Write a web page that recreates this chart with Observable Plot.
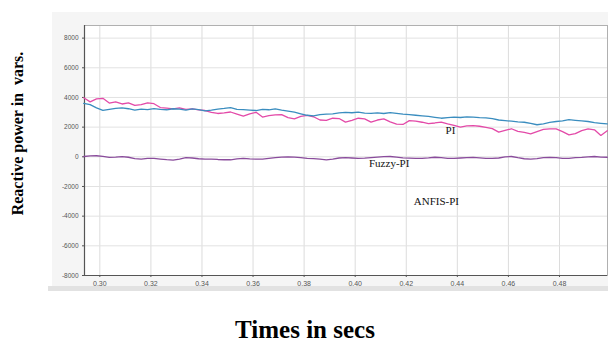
<!DOCTYPE html>
<html>
<head>
<meta charset="utf-8">
<script src="https://cdn.jsdelivr.net/npm/d3@7"></script>
<script src="https://cdn.jsdelivr.net/npm/@observablehq/plot@0.6"></script>
<style>
html,body{margin:0;padding:0;background:#fff;}
#chart{width:608px;height:342px;}
</style>
</head>
<body>
<div id="chart"></div>
<script>
// Sample times (s)
const t0 = 0.2937, dt = 0.0025;
const piValues = [3600,3520,3300,3130,3200,3260,3300,3240,3150,3220,3180,3250,3200,3170,3240,3210,3150,3230,3180,3100,3150,3220,3260,3320,3200,3180,3150,3120,3200,3170,3230,3150,3080,3010,2900,2800,2760,2840,2870,2900,2960,3000,2970,3010,2950,2930,2960,2920,2980,2930,2880,2840,2800,2760,2720,2660,2600,2640,2680,2650,2690,2670,2640,2620,2570,2480,2440,2400,2350,2330,2250,2160,2220,2320,2380,2420,2500,2460,2420,2380,2300,2260,2220];
const fuzzyValues = [3980,3700,3900,3940,3620,3700,3560,3640,3460,3520,3640,3580,3320,3280,3230,3300,3190,3230,3160,3120,3000,2920,2960,3020,2880,2740,2900,3000,2680,2780,2820,2840,2640,2560,2720,2790,2700,2480,2460,2600,2580,2340,2460,2600,2560,2340,2480,2560,2360,2200,2180,2440,2400,2330,2240,2280,2340,2220,2120,2000,2080,2100,2060,1980,1900,1660,1780,1890,1720,1640,1540,1700,1850,1880,1880,1700,1480,1560,1770,1880,1820,1440,1760];
const anfisValues = [20,60,70,30,-40,-20,10,-30,-120,-160,-100,-110,-150,-190,-220,-150,-60,-80,-130,-160,-150,-180,-200,-200,-140,-110,-140,-160,-150,-100,-60,-20,0,-20,-60,-110,-120,-160,-200,-150,-80,-50,-80,-110,-90,-50,-20,10,20,-20,-70,-90,-110,-100,-70,-30,-50,-100,-110,-80,-50,-40,-70,-100,-110,-80,0,20,-60,-130,-160,-120,-60,-40,-60,-110,-100,-60,-40,0,20,-20,-30];
const times = piValues.map((_, i) => t0 + i * dt);

const xTicks = [0.30,0.32,0.34,0.36,0.38,0.40,0.42,0.44,0.46,0.48];
const yTicks = [-8000,-6000,-4000,-2000,0,2000,4000,6000,8000];

const seriesNames = ["PI", "Fuzzy-PI", "ANFIS-PI"];
const labelT = [0.4373, 0.4133, 0.4318];
const labelV = [1750, -480, -2980];

const toRows = (vals) => vals.map((v, i) => ({t: times[i], v}));
const piRows = toRows(piValues), fuzzyRows = toRows(fuzzyValues), anfisRows = toRows(anfisValues);
const labelRows = seriesNames.map((n, i) => ({name: n, t: labelT[i], v: labelV[i]}));

const xDomain = [0.2940, 0.4988];
const yDomain = [-8000, 8850];

const chart = Plot.plot({
  width: 608,
  height: 342,
  marginLeft: 84,
  marginRight: 1,
  marginTop: 25,
  marginBottom: 67,
  x: {domain: xDomain},
  y: {domain: yDomain},
  marks: [
    Plot.frame({fill: "white", stroke: "none"}),
    Plot.gridX(xTicks, {stroke: "#dcdcdc", strokeOpacity: 1}),
    Plot.gridY(yTicks, {stroke: "#e2e2e2", strokeOpacity: 1}),
    Plot.frame({stroke: "#b0b0b0"}),
    Plot.ruleX([xDomain[0]], {stroke: "#555", strokeWidth: 1.2}),
    Plot.ruleY([yDomain[0]], {stroke: "#555", strokeWidth: 1.2}),
    Plot.axisX({ticks: xTicks, tickFormat: d3.format(".2f"), tickSize: 2, tickPadding: 4, fontSize: 7, fontFamily: "Liberation Sans", color: "#555", label: null}),
    Plot.axisY({ticks: yTicks, tickFormat: d => String(d), tickSize: 2, tickPadding: 4, fontSize: 6.5, fontFamily: "Liberation Sans", color: "#555", label: null}),
    Plot.line(anfisRows, {x: "t", y: "v", stroke: "#8a4c9c", strokeWidth: 1.3}),
    Plot.line(fuzzyRows, {x: "t", y: "v", stroke: "#e34aa8", strokeWidth: 1.3}),
    Plot.line(piRows, {x: "t", y: "v", stroke: "#3a8dbf", strokeWidth: 1.3}),
    Plot.text(labelRows, {x: "t", y: "v", text: "name", fontFamily: "Liberation Serif", fontSize: 11, fill: "#111"}),
    Plot.text(["Reactive power in  vars."], {frameAnchor: "left", textAnchor: "middle", lineAnchor: "middle", dx: -67, dy: -17, rotate: -90, fontFamily: "Liberation Serif", fontWeight: "bold", fontSize: 16, fill: "#000"}),
    Plot.text(["Times in secs"], {frameAnchor: "bottom", lineAnchor: "middle", dx: -41, dy: 54, fontFamily: "Liberation Serif", fontWeight: "bold", fontSize: 25, fill: "#000"})
  ]
});

// light grey panel behind the chart, as in the original screenshot
const svg = d3.select(chart);
svg.insert("rect", ":first-child").attr("x", 48).attr("y", 286).attr("width", 560).attr("height", 5).attr("fill", "#e2e2e2");
svg.insert("rect", ":first-child").attr("x", 52).attr("y", 12).attr("width", 556).attr("height", 276).attr("fill", "#f5f5f5");
document.getElementById("chart").appendChild(chart);
</script>
</body>
</html>
